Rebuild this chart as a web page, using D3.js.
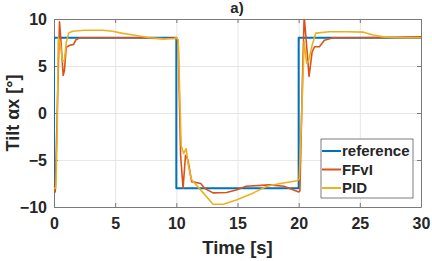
<!DOCTYPE html>
<html>
<head>
<meta charset="utf-8">
<script src="https://cdn.jsdelivr.net/npm/d3@7"></script>
<style>
  body { margin: 0; background: white; }
  svg { display: block; font-family: "Liberation Sans", Arial, sans-serif; }
</style>
</head>
<body>
<div id="chart"></div>
<script>
// values
const refT = [0, 0, 10, 10, 20, 20, 30];
const refV = [-8, 8, 8, -8, -8, 8, 8];

const ffviT = [0, 0.1, 0.3, 0.45, 0.55, 0.75, 0.85, 1.0, 1.3, 1.6, 1.8, 2.1, 3, 5, 7, 9, 10,
  10.15, 10.35, 10.55, 10.75, 10.95, 11.25, 12.0, 12.3, 13.0, 14.1, 14.9, 15.7, 17.6, 18.8, 20.0,
  20.1, 20.3, 20.45, 20.6, 20.85, 21.1, 21.3, 21.7, 22.1, 22.8, 25, 28, 30];
const ffviV = [-8, -8.4, 2, 9.7, 8, 4.0, 4.5, 7.0, 7.2, 7.3, 7.8, 8.0, 8.0, 8.0, 8.0, 7.9, 8.0,
  7.5, -4.5, -8.0, -4.5, -5.0, -7.3, -7.5, -8.0, -8.5, -8.45, -8.2, -7.8, -7.65, -7.8, -8.4,
  -8.3, 3, 10.3, 8, 3.9, 6.5, 7.05, 7.05, 7.75, 8.0, 8.0, 8.05, 8.1];

const pidT = [0, 0.15, 0.25, 0.35, 0.5, 0.7, 0.85, 1.0, 1.2, 1.5, 2.5, 4.0, 4.8, 5.5, 6.5, 7.8, 9.0, 9.8, 10.0,
  10.15, 10.4, 10.6, 10.8, 11.0, 11.25, 12.2, 13.0, 13.85, 14.9, 16.3, 17.4, 18.5, 19.9,
  20.05, 20.25, 20.45, 20.65, 20.8, 21.1, 21.4, 22.5, 24.0, 25.3, 26.1, 26.9, 28, 30];
const pidV = [-8, -8, -3, 8, 7.5, 5.5, 5.6, 7.5, 8.5, 8.7, 8.8, 8.8, 8.7, 8.5, 8.3, 8.0, 7.9, 7.9, 8.0,
  7.8, -3.5, -4.3, -3.8, -5.7, -7.1, -8.5, -9.7, -9.7, -9.25, -8.5, -7.8, -7.5, -7.2,
  -7.0, 0, 7.6, 5.3, 5.5, 7.2, 8.5, 8.65, 8.65, 8.6, 8.3, 8.1, 8.0, 8.0];

const seriesNames = ["reference", "FFvI", "PID"];
const seriesColors = ["#0072BD", "#D95319", "#EDB120"];
const xTicks = [0, 5, 10, 15, 20, 25, 30];
const yTicks = [-10, -5, 0, 5, 10];

const zip = (ts, vs) => ts.map((t, i) => ({ t, v: vs[i] }));
const series = [zip(refT, refV), zip(ffviT, ffviV), zip(pidT, pidV)];

//Set dimensions
const dimensions = {
  width: 432,
  height: 261,
  margins: { top: 19, right: 11, bottom: 54, left: 54 }
};
dimensions.boundedWidth = dimensions.width - dimensions.margins.left - dimensions.margins.right;
dimensions.boundedHeight = dimensions.height - dimensions.margins.top - dimensions.margins.bottom;

const svg = d3.select("#chart")
  .append("svg")
  .attr("width", dimensions.width)
  .attr("height", dimensions.height);

const bounds = svg.append("g")
  .attr("transform", `translate(${dimensions.margins.left},${dimensions.margins.top})`);

//Create scales
const xScale = d3.scaleLinear().domain([0, 30]).range([0, dimensions.boundedWidth]);
const yScale = d3.scaleLinear().domain([-10, 10]).range([dimensions.boundedHeight, 0]);

// grid
bounds.append("g")
  .call(d3.axisBottom(xScale).tickValues(xTicks).tickSize(dimensions.boundedHeight).tickFormat(""))
  .call((g) => g.select(".domain").remove())
  .call((g) => g.selectAll("line").attr("stroke", "#e6e6e6"));
bounds.append("g")
  .call(d3.axisRight(yScale).tickValues(yTicks).tickSize(dimensions.boundedWidth).tickFormat(""))
  .call((g) => g.select(".domain").remove())
  .call((g) => g.selectAll("line").attr("stroke", "#e6e6e6"));

//Draw axis
const axisColor = "#7a7a7a";
const tickStyle = (g) => g
  .attr("font-size", 16)
  .attr("font-weight", 700)
  .attr("font-family", "Liberation Sans, Arial, sans-serif")
  .call((s) => s.selectAll("text").attr("fill", "#262626"))
  .call((s) => s.selectAll("line, path").attr("stroke", axisColor));

bounds.append("g")
  .attr("transform", `translate(0,${dimensions.boundedHeight})`)
  .call(d3.axisBottom(xScale).tickValues(xTicks).tickSizeInner(-4).tickSizeOuter(0).tickPadding(11))
  .call(tickStyle);
bounds.append("g")
  .call(d3.axisTop(xScale).tickValues(xTicks).tickSizeInner(-4).tickSizeOuter(0).tickFormat(""))
  .call(tickStyle);
bounds.append("g")
  .call(d3.axisLeft(yScale).tickValues(yTicks).tickSizeInner(-4).tickSizeOuter(0).tickPadding(7))
  .call(tickStyle)
  .call((g) => g.selectAll(".tick text").attr("dy", "0.35em"));
bounds.append("g")
  .attr("transform", `translate(${dimensions.boundedWidth},0)`)
  .call(d3.axisRight(yScale).tickValues(yTicks).tickSizeInner(-4).tickSizeOuter(0).tickFormat(""))
  .call(tickStyle);

//Draw data
bounds.append("clipPath").attr("id", "clip")
  .append("rect")
  .attr("width", dimensions.boundedWidth)
  .attr("height", dimensions.boundedHeight);

const lineGenerator = d3.line()
  .x((d) => xScale(d.t))
  .y((d) => yScale(d.v));

bounds.append("g")
  .attr("clip-path", "url(#clip)")
  .selectAll("path")
  .data(series)
  .join("path")
  .attr("d", lineGenerator)
  .attr("fill", "none")
  .attr("stroke", (d, i) => seriesColors[i])
  .attr("stroke-width", (d, i) => (i === 0 ? 2 : 1.6))
  .attr("stroke-linejoin", "round");

// labels
svg.append("text")
  .attr("x", 237).attr("y", 13)
  .attr("text-anchor", "middle")
  .attr("font-size", 15).attr("font-weight", 700)
  .attr("fill", "#262626")
  .text("a)");

svg.append("text")
  .attr("x", dimensions.margins.left + dimensions.boundedWidth / 2)
  .attr("y", 254)
  .attr("text-anchor", "middle")
  .attr("font-size", 18.5).attr("font-weight", 700)
  .attr("fill", "#262626")
  .text("Time [s]");

svg.append("text")
  .attr("transform", `translate(19,${dimensions.margins.top + dimensions.boundedHeight / 2}) rotate(-90)`)
  .attr("text-anchor", "middle")
  .attr("font-size", 18).attr("font-weight", 700)
  .attr("fill", "#262626")
  .text("Tilt αx [°]");

// legend
const legend = svg.append("g").attr("transform", "translate(321,139)");
legend.append("rect")
  .attr("width", 92).attr("height", 59)
  .attr("fill", "white")
  .attr("stroke", "#262626")
  .attr("stroke-width", 0.6);
const items = legend.selectAll("g")
  .data(seriesNames)
  .join("g")
  .attr("transform", (d, i) => `translate(0,${12 + i * 18.5})`);
items.append("line")
  .attr("x1", 1).attr("x2", 20)
  .attr("stroke", (d, i) => seriesColors[i])
  .attr("stroke-width", 2);
items.append("text")
  .attr("x", 21).attr("dy", "0.35em")
  .attr("font-size", 15).attr("font-weight", 700)
  .attr("fill", "#262626")
  .text((d) => d);
</script>
</body>
</html>
